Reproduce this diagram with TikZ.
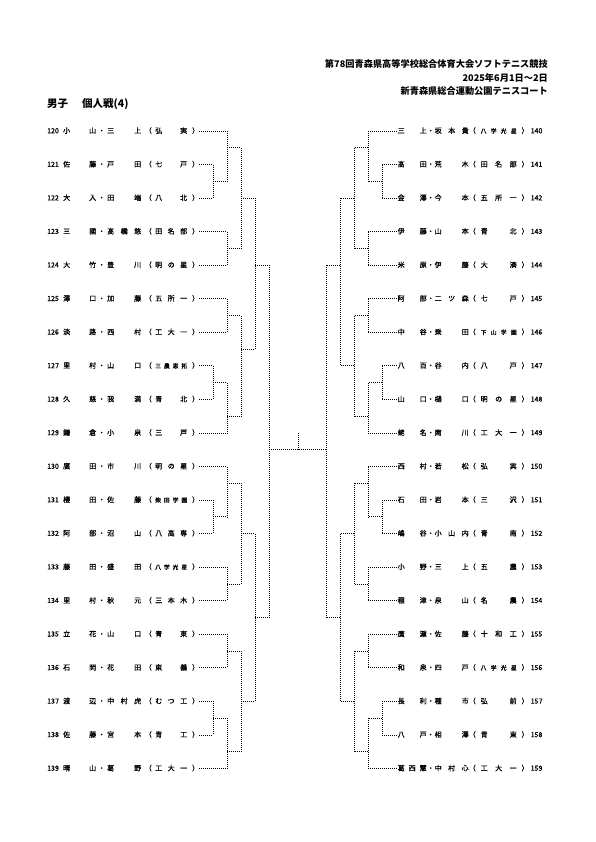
\documentclass[tikz,border=0pt]{standalone}
\usepackage{fontspec}
\setmainfont{Noto Sans CJK JP}
\newfontfamily\entfont[FakeBold=0.8]{Noto Sans CJK JP}
\tikzset{
  entry/.style={inner sep=0pt, anchor=west, font=\entfont\fontsize{7}{8}\selectfont, text height=5.5pt, text depth=1pt},
  br/.style={line width=0.75pt, dash pattern=on 0.75pt off 1.25pt},
  hdr/.style={inner sep=0pt, anchor=east, font=\fontsize{9.2}{11}\bfseries},
}
\newcommand{\RY}[1]{131+33.55*#1}
\newcommand{\sm}{\fontsize{5.8}{6}\selectfont}
\newcommand{\Lent}[5]{\node[entry] (L#1) at (47,{\RY{#1}}) {\makebox[14pt][l]{#2}\hspace{2pt}\hbox to 33pt{#3}\makebox[11pt]{・}\hbox to 34pt{#4}\makebox[14pt]{（}\hbox to 32pt{#5}\makebox[12pt][r]{）}};}
\newcommand{\Rent}[5]{\node[entry] (R#1) at (397.5,{\RY{#1}}) {\hbox to 29pt{#3}\makebox[8pt]{・}\hbox to 34pt{#4}\makebox[12pt][l]{（}\hbox to 36pt{#5}\makebox[12pt][r]{）}\hspace{2pt}#2};}
\newcommand{\Brk}[5]{\draw[br] (#1,{\RY{#2}}) -- (#1,{\RY{#3}}) (#1,{\RY{#4}}) -- (#5,{\RY{#4}});}
\begin{document}
\begin{tikzpicture}[x=1pt,y=-1pt]
\useasboundingbox (0,0) rectangle (595,842);
\fill[white] (0,0) rectangle (595,842);
% header
\node[hdr] (h1) at (548,64) {第78回青森県高等学校総合体育大会ソフトテニス競技};
\node[hdr] (h2) at (548,78) {2025年6月1日～2日};
\node[hdr] (h3) at (548,91) {新青森県総合運動公園テニスコート};
\node[inner sep=0pt, anchor=west, font=\fontsize{10.5}{12}\bfseries] (title) at (47,104) {男子\hspace{14pt}個人戦(4)};
% left entries
\Lent{0}{120}{小\hfil 山}{三\hfil 上}{弘\hfil 実}
\Lent{1}{121}{佐\hfil 藤}{戸\hfil 田}{七\hfil 戸}
\Lent{2}{122}{大\hfil 入}{田\hfil 端}{八\hfil 北}
\Lent{3}{123}{三\hfil 國}{髙\hfil 橋\hfil 悠}{田\hfil 名\hfil 部}
\Lent{4}{124}{大\hfil 竹}{豊\hfil 川}{明\hfil の\hfil 星}
\Lent{5}{125}{澤\hfil 口}{加\hfil 藤}{五\hfil 所\hfil 一}
\Lent{6}{126}{淡\hfil 路}{西\hfil 村}{工\hfil 大\hfil 一}
\Lent{7}{127}{里\hfil 村}{山\hfil 口}{\sm 三\hfil 農\hfil 恵\hfil 拓}
\Lent{8}{128}{久\hfil 慈}{我\hfil 満}{青\hfil 北}
\Lent{9}{129}{鎌\hfil 倉}{小\hfil 泉}{三\hfil 戸}
\Lent{10}{130}{廣\hfil 田}{市\hfil 川}{明\hfil の\hfil 星}
\Lent{11}{131}{櫻\hfil 田}{佐\hfil 藤}{\sm 柴\hfil 田\hfil 学\hfil 園}
\Lent{12}{132}{阿\hfil 部}{沼\hfil 山}{八\hfil 高\hfil 専}
\Lent{13}{133}{藤\hfil 田}{盛\hfil 田}{\sm 八\hfil 学\hfil 光\hfil 星}
\Lent{14}{134}{里\hfil 村}{秋\hfil 元}{三\hfil 本\hfil 木}
\Lent{15}{135}{立\hfil 花}{山\hfil 口}{青\hfil 東}
\Lent{16}{136}{石\hfil 岡}{花\hfil 田}{東\hfil 義}
\Lent{17}{137}{渡\hfil 辺}{中\hfil 村\hfil 虎}{む\hfil つ\hfil 工}
\Lent{18}{138}{佐\hfil 藤}{宮\hfil 本}{青\hfil 工}
\Lent{19}{139}{晴\hfil 山}{葛\hfil 野}{工\hfil 大\hfil 一}
% right entries
\Rent{0}{140}{三\hfil 上}{坂\hfil 本\hfil 貴}{\sm 八\hfil 学\hfil 光\hfil 星}
\Rent{1}{141}{髙\hfil 田}{荒\hfil 木}{田\hfil 名\hfil 部}
\Rent{2}{142}{金\hfil 澤}{今\hfil 本}{五\hfil 所\hfil 一}
\Rent{3}{143}{伊\hfil 藤}{山\hfil 本}{青\hfil 北}
\Rent{4}{144}{米\hfil 原}{伊\hfil 藤}{大\hfil 湊}
\Rent{5}{145}{阿\hfil 部}{二\hfil ツ\hfil 森}{七\hfil 戸}
\Rent{6}{146}{中\hfil 谷}{乗\hfil 田}{\sm 下\hfil 山\hfil 学\hfil 園}
\Rent{7}{147}{八\hfil 百}{谷\hfil 内}{八\hfil 戸}
\Rent{8}{148}{山\hfil 口}{樋\hfil 口}{明\hfil の\hfil 星}
\Rent{9}{149}{蛯\hfil 名}{南\hfil 川}{工\hfil 大\hfil 一}
\Rent{10}{150}{西\hfil 村}{若\hfil 松}{弘\hfil 実}
\Rent{11}{151}{石\hfil 田}{岩\hfil 本}{三\hfil 沢}
\Rent{12}{152}{嶋\hfil 谷}{小\hfil 山\hfil 内}{青\hfil 南}
\Rent{13}{153}{小\hfil 野}{三\hfil 上}{五\hfil 農}
\Rent{14}{154}{稲\hfil 津}{泉\hfil 山}{名\hfil 農}
\Rent{15}{155}{廣\hfil 瀬}{佐\hfil 藤}{十\hfil 和\hfil 工}
\Rent{16}{156}{和\hfil 泉}{四\hfil 戸}{\sm 八\hfil 学\hfil 光\hfil 星}
\Rent{17}{157}{長\hfil 利}{種\hfil 市}{弘\hfil 前}
\Rent{18}{158}{八\hfil 戸}{相\hfil 澤}{青\hfil 東}
\Rent{19}{159}{葛\hfil 西\hfil 慧}{中\hfil 村\hfil 心}{工\hfil 大\hfil 一}
% bracket column coordinates
\coordinate (la) at (213,0);
\coordinate (lb) at (227,0);
\coordinate (ra) at (382,0);
\coordinate (rb) at (368,0);
% leaf lines
\foreach \k in {0,3,4,5,6,9,10,13,14,15,16,19} {
  \draw[br] (L\k.east) -- (L\k.east -| lb);
  \draw[br] (R\k.west -| rb) -- (R\k.west);
}
\foreach \k in {1,2,7,8,11,12,17,18} {
  \draw[br] (L\k.east) -- (L\k.east -| la);
  \draw[br] (R\k.west -| ra) -- (R\k.west);
}
% left brackets
\Brk{213}{1}{2}{1.5}{227}
\Brk{227}{0}{1.5}{0.5}{241}
\Brk{227}{3}{4}{3.5}{241}
\Brk{241}{0.5}{3.5}{2}{255}
\Brk{227}{5}{6}{5.5}{241}
\Brk{213}{7}{8}{7.5}{227}
\Brk{227}{7.5}{9}{8.5}{241}
\Brk{241}{5.5}{8.5}{6.5}{255}
\Brk{255}{2}{6.5}{4}{269}
\Brk{213}{11}{12}{11.5}{227}
\Brk{227}{10}{11.5}{10.5}{241}
\Brk{227}{13}{14}{13.5}{241}
\Brk{241}{10.5}{13.5}{12}{255}
\Brk{227}{15}{16}{15.5}{241}
\Brk{213}{17}{18}{17.5}{227}
\Brk{227}{17.5}{19}{18.5}{241}
\Brk{241}{15.5}{18.5}{17}{255}
\Brk{255}{12}{17}{14.5}{269}
% right brackets
\Brk{382}{1}{2}{1.5}{368}
\Brk{368}{0}{1.5}{0.5}{354}
\Brk{368}{3}{4}{3.5}{354}
\Brk{354}{0.5}{3.5}{2}{340}
\Brk{368}{5}{6}{5.5}{354}
\Brk{382}{7}{8}{7.5}{368}
\Brk{368}{7.5}{9}{8.5}{354}
\Brk{354}{5.5}{8.5}{7}{340}
\Brk{340}{2}{7}{4}{326}
\Brk{382}{11}{12}{11.5}{368}
\Brk{368}{10}{11.5}{10.5}{354}
\Brk{368}{13}{14}{13.5}{354}
\Brk{354}{10.5}{13.5}{12}{340}
\Brk{368}{15}{16}{15.5}{354}
\Brk{382}{17}{18}{17.5}{368}
\Brk{368}{17.5}{19}{18.5}{354}
\Brk{354}{15.5}{18.5}{17}{340}
\Brk{340}{12}{17}{14.5}{326}
% finals
\draw[br] (269,{\RY{4}}) -- (269,{\RY{14.5}});
\draw[br] (326,{\RY{4}}) -- (326,{\RY{14.5}});
\coordinate (fl) at (269,{\RY{9.5}});
\coordinate (fr) at (326,{\RY{9.5}});
\coordinate (ft) at (298,{\RY{9.5}});
\coordinate (top) at (298,433);
\draw[br] (fl) -- (fr);
\draw[br] (ft) -- (top);
\end{tikzpicture}
\end{document}
